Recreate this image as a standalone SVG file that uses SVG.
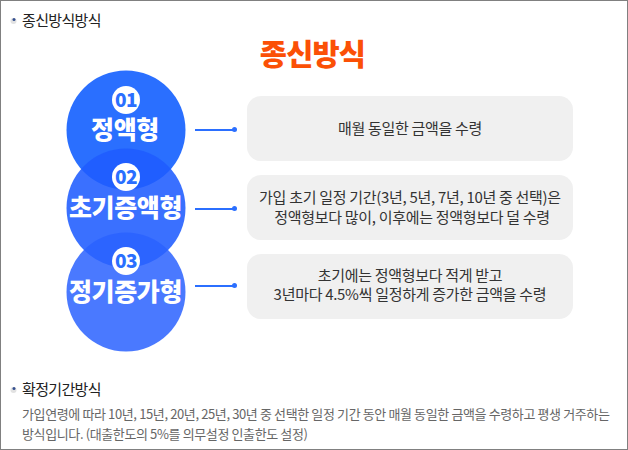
<svg xmlns="http://www.w3.org/2000/svg" width="628" height="450" viewBox="0 0 628 450">
<style>
text{font-family:"Noto Sans CJK KR","Noto Sans",sans-serif}
.h{font-size:15px;fill:#222;letter-spacing:-.65px}
.c{font-size:15px;fill:#333;text-anchor:middle;letter-spacing:-.3px}
.p{font-size:13px;fill:#666;letter-spacing:-.38px}
.n{font-size:25px;font-weight:900;fill:#fff;text-anchor:middle;letter-spacing:-.4px}
.b{font-size:19px;font-weight:900;text-anchor:middle;letter-spacing:-.5px}
.box{fill:#f0f0f0}
.ln{stroke:#2b6fff;stroke-width:2;fill:none}
.dot{fill:#2b6fff}
</style>
<rect width="628" height="450" fill="#fff"/>
<rect x=".5" y=".5" width="627" height="449" fill="none" stroke="#808080"/>
<g id="heading1"><circle cx="13.500" cy="21" r="3" fill="#e2e2e2"/><circle cx="14" cy="19.500" r="1.500" fill="#35508f"/><text class="h" x="22" y="26">종신방식방식</text></g>
<text id="title" x="312.500" y="65" font-size="29.500" font-weight="900" fill="#fb5006" text-anchor="middle" letter-spacing="-.8">종신방식</text>
<g id="node1"><circle cx="126" cy="130" r="59.500" fill="#2a6fff"/></g>
<g id="node2"><circle cx="126" cy="208" r="59.500" fill="#1f5cff" fill-opacity=".88"/></g>
<g id="node3"><circle cx="126" cy="292" r="59.500" fill="#2a62ff" fill-opacity=".85"/></g>
<g id="labels1"><circle cx="126" cy="100" r="14" fill="#fff"/><text class="b" x="126" y="106.500" fill="#2a6fff">01</text><text class="n" x="125" y="139">정액형</text></g>
<g id="labels2"><circle cx="126" cy="177" r="14" fill="#fff"/><text class="b" x="126" y="183.500" fill="#2a6fff">02</text><text class="n" x="125.500" y="217">초기증액형</text></g>
<g id="labels3"><circle cx="126" cy="261" r="14" fill="#fff"/><text class="b" x="126" y="267.500" fill="#2a6fff">03</text><text class="n" x="125.500" y="301">정기증가형</text></g>
<g id="connectors">
<path class="ln" d="M195 130H234M195 209H234M195 286H234"/>
<circle class="dot" cx="234.500" cy="129.500" r="2.500"/><circle class="dot" cx="234.500" cy="208.500" r="2.500"/><circle class="dot" cx="234.500" cy="285.500" r="2.500"/>
</g>
<g id="desc1"><rect class="box" x="247" y="96" width="326" height="65" rx="14"/><text class="c" x="410" y="134">매월 동일한 금액을 수령</text></g>
<g id="desc2"><rect class="box" x="247" y="175" width="326" height="65" rx="14"/><text class="c" x="410" y="203">가입 초기 일정 기간(3년, 5년, 7년, 10년 중 선택)은</text><text class="c" x="412" y="223">정액형보다 많이, 이후에는 정액형보다 덜 수령</text></g>
<g id="desc3"><rect class="box" x="247" y="254" width="326" height="65" rx="14"/><text class="c" x="410" y="281">초기에는 정액형보다 적게 받고</text><text class="c" x="410" y="300">3년마다 4.5%씩 일정하게 증가한 금액을 수령</text></g>
<g id="heading2"><circle cx="13.500" cy="390" r="3" fill="#e2e2e2"/><circle cx="14" cy="388.500" r="1.500" fill="#35508f"/><text class="h" x="22" y="395">확정기간방식</text></g>
<g id="para"><text class="p" x="22" y="419">가입연령에 따라 10년, 15년, 20년, 25년, 30년 중 선택한 일정 기간 동안 매월 동일한 금액을 수령하고 평생 거주하는</text><text class="p" x="22" y="439">방식입니다. (대출한도의 5%를 의무설정 인출한도 설정)</text></g>
</svg>
